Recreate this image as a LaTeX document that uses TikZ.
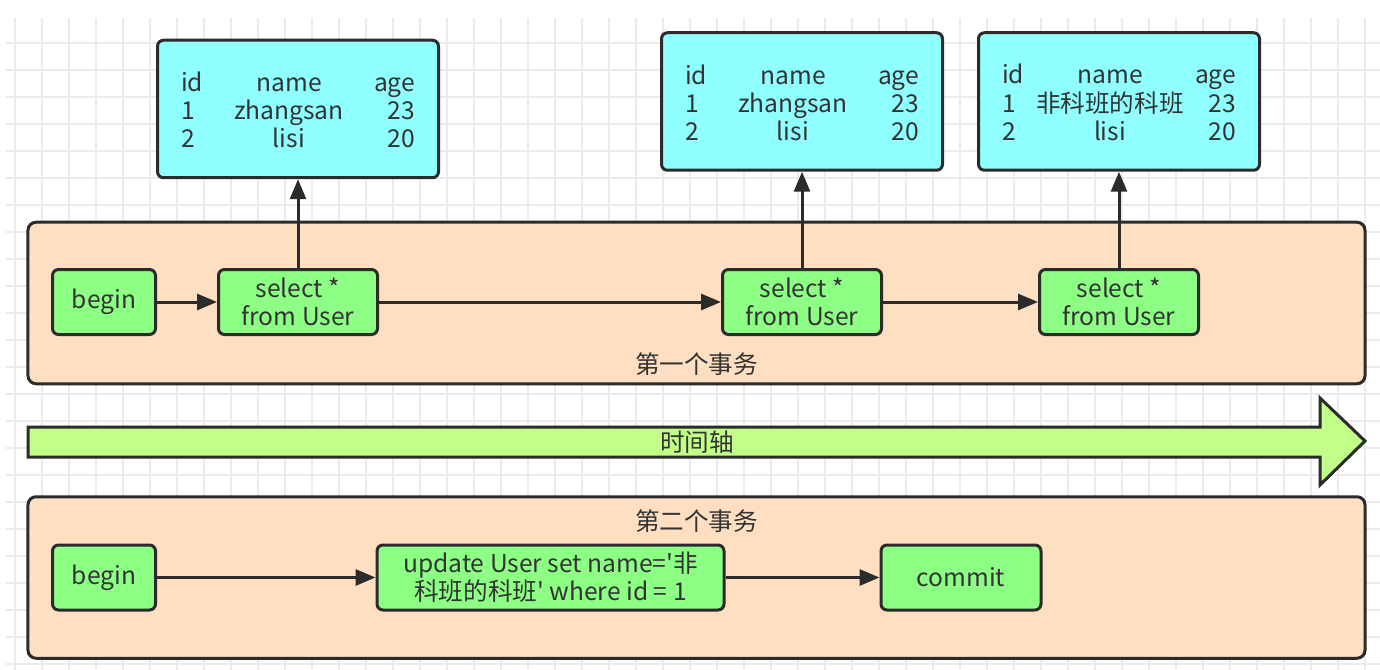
\documentclass[tikz,border=0pt]{standalone}
\usepackage{fontspec}
\newfontfamily\cjkfont{Noto Sans CJK SC}
\usetikzlibrary{arrows.meta}
\definecolor{boxline}{HTML}{2B2B2B}
\definecolor{txtgray}{HTML}{333333}
\definecolor{stepgreen}{HTML}{8CFF84}
\definecolor{tablecyan}{HTML}{90FFFF}
\definecolor{transpeach}{HTML}{FFDFC1}
\definecolor{axisgreen}{HTML}{C1FF88}
\definecolor{gridgray}{HTML}{EBEBEB}
% one row of a user table
\newcommand{\userrow}[3]{\makebox[0.8cm][l]{#1}\makebox[2.72cm][c]{#2}\makebox[1.16cm][r]{#3}}

\begin{document}
\begin{tikzpicture}[
    font=\cjkfont\fontsize{14}{16}\selectfont, text=txtgray,
    gridline/.style={gridgray, line width=0.04cm},
    stepbox/.style={rectangle, rounded corners=0.12cm, draw=boxline, line width=0.06cm, fill=stepgreen, align=center, inner sep=0pt, minimum height=1.3cm},
    tablebox/.style={rectangle, rounded corners=0.12cm, draw=boxline, line width=0.06cm, fill=tablecyan, inner sep=0pt, minimum width=5.62cm, minimum height=2.75cm},
    transbox/.style={rectangle, rounded corners=0.16cm, draw=boxline, line width=0.06cm, fill=transpeach, minimum width=26.74cm, minimum height=3.23cm},
    flow/.style={-{Triangle[length=0.4cm, width=0.32cm]}, boxline, line width=0.06cm}
]
    \useasboundingbox (0,0) rectangle (27.6,-13.4) ;

    % background grid
    \foreach \gx in {0,...,50}
        \draw[gridline] ({0.3+0.54*\gx},-0.36) -- ({0.3+0.54*\gx},-13.4) ;
    \foreach \gy in {0,...,23}
        \draw[gridline] (0.12,{-0.86-0.54*\gy}) -- (27.6,{-0.86-0.54*\gy}) ;

    % transactions
    \node[transbox] (trans_one) at (13.93,-6.06) {} ;
    \node[yshift=-1.22cm] (trans_one_label) at (trans_one) {第一个事务} ;
    \node[transbox] (trans_two) at (13.93,-11.55) {} ;
    \node[yshift=1.13cm] (trans_two_label) at (trans_two) {第二个事务} ;

    % time axis
    \draw[boxline, line width=0.06cm, fill=axisgreen, line join=miter]
        (0.56,-8.54) -- (26.4,-8.54) -- (26.4,-7.96) -- (27.3,-8.82) -- (26.4,-9.7) -- (26.4,-9.14) -- (0.56,-9.14) -- cycle ;
    \node (axis_label) at (13.94,-8.84) {时间轴} ;

    % first transaction
    \node[stepbox, minimum width=2.06cm] (begin_one) at (2.08,-6.04) {begin} ;
    \node[stepbox, minimum width=3.18cm, xshift=3.88cm] (select_one) at (begin_one) {select *\\from User} ;
    \node[stepbox, minimum width=3.18cm, xshift=10.08cm] (select_two) at (select_one) {select *\\from User} ;
    \node[stepbox, minimum width=3.18cm, xshift=6.34cm] (select_three) at (select_two) {select *\\from User} ;

    \node[tablebox, yshift=3.86cm] (table_one) at (select_one) {\raisebox{-0.1cm}[\height][\depth]{\begin{tabular}{@{}l@{}}\userrow{id}{name}{age}\\\userrow{1}{zhangsan}{23}\\\userrow{2}{lisi}{20}\end{tabular}}} ;
    \node[tablebox, yshift=4.01cm] (table_two) at (select_two) {\raisebox{-0.1cm}[\height][\depth]{\begin{tabular}{@{}l@{}}\userrow{id}{name}{age}\\\userrow{1}{zhangsan}{23}\\\userrow{2}{lisi}{20}\end{tabular}}} ;
    \node[tablebox, yshift=4.01cm] (table_three) at (select_three) {\raisebox{-0.1cm}[\height][\depth]{\begin{tabular}{@{}l@{}}\userrow{id}{name}{age}\\\userrow{1}{非科班的科班}{23}\\\userrow{2}{lisi}{20}\end{tabular}}} ;

    \draw[flow] (begin_one.east) -- (select_one.west) ;
    \draw[flow] (select_one.east) -- (select_two.west) ;
    \draw[flow] (select_two.east) -- (select_three.west) ;
    \draw[flow] (select_one.north) -- (table_one.south) ;
    \draw[flow] (select_two.north) -- (table_two.south) ;
    \draw[flow] (select_three.north) -- (table_three.south) ;

    % second transaction
    \node[stepbox, minimum width=2.06cm] (begin_two) at (2.08,-11.55) {begin} ;
    \node[stepbox, minimum width=6.94cm, xshift=8.93cm] (update_user) at (begin_two) {update User set name='非\\科班的科班' where id = 1} ;
    \node[stepbox, minimum width=3.2cm, xshift=8.21cm] (commit) at (update_user) {commit} ;

    \draw[flow] (begin_two.east) -- (update_user.west) ;
    \draw[flow] (update_user.east) -- (commit.west) ;

\end{tikzpicture}
\end{document}
